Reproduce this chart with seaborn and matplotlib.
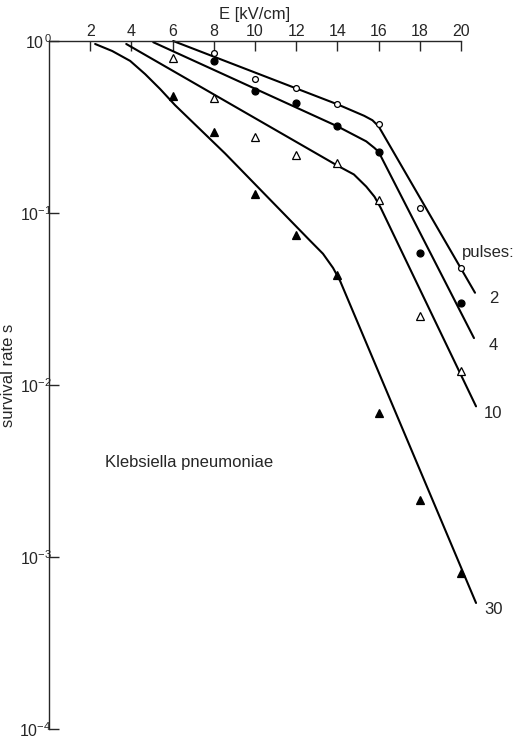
import numpy as np
import pandas as pd
import matplotlib
matplotlib.use("Agg")
import matplotlib.pyplot as plt
import seaborn as sns

# Field strength of the measurements (kV/cm)
field = [6, 8, 10, 12, 14, 16, 18, 20]

# Measured survival rates per number of pulses
surv_2 = [None, 0.848, 0.598, 0.530, 0.428, 0.327, 0.106, 0.0479]
surv_4 = [None, 0.761, 0.509, 0.433, 0.318, 0.227, 0.0586, 0.030]
surv_10 = [0.793, 0.463, 0.274, 0.216, 0.194, 0.118, 0.0251, 0.0120]
surv_30 = [0.476, 0.294, 0.129, 0.0746, 0.0436, 0.0069, 0.00215, 0.00081]

# Fitted curves (E, s) for each pulse number
fit_2_E = [6.03, 14.0, 15.3, 15.7, 16.0, 20.68]
fit_2_s = [0.996, 0.427, 0.366, 0.345, 0.318, 0.0343]
fit_4_E = [5.06, 14.0, 15.4, 15.8, 16.0, 20.63]
fit_4_s = [0.98, 0.318, 0.26, 0.238, 0.226, 0.0187]
fit_10_E = [3.75, 14.0, 14.8, 15.4, 15.8, 16.1, 20.73]
fit_10_s = [0.957, 0.188, 0.167, 0.142, 0.124, 0.107, 0.0075]
fit_30_E = [2.24, 3.07, 3.94, 4.67, 5.40, 6.12, 8.55, 12.67, 13.30, 13.79,
            14.13, 20.73]
fit_30_s = [0.957, 0.871, 0.763, 0.639, 0.523, 0.422, 0.221, 0.0689, 0.0578,
            0.0478, 0.0402, 0.00054]

x_ticks = [2, 4, 6, 8, 10, 12, 14, 16, 18, 20]
y_ticks = [1, 1e-1, 1e-2, 1e-3, 1e-4]
y_labels = [r"$10^{\,0}$", r"$10^{-1}$", r"$10^{-2}$", r"$10^{-3}$", r"$10^{-4}$"]

sns.set_style("ticks")
plt.rcParams["font.family"] = ["Liberation Sans", "DejaVu Sans"]
plt.rcParams["mathtext.fontset"] = "custom"
plt.rcParams["mathtext.rm"] = "Liberation Sans"
plt.rcParams["mathtext.it"] = "Liberation Sans"

FS = 12

fig = plt.figure(figsize=(5.15, 7.43), dpi=100)
ax = fig.add_axes([49 / 515, 1 - 729 / 743, (461 - 49) / 515, (729 - 40.7) / 743])

series = [
    ("2", surv_2, fit_2_E, fit_2_s, "o", "white", 4.2),
    ("4", surv_4, fit_4_E, fit_4_s, "o", "black", 5.0),
    ("10", surv_10, fit_10_E, fit_10_s, "^", "white", 5.5),
    ("30", surv_30, fit_30_E, fit_30_s, "^", "black", 5.5),
]

for name, surv, fE, fs, mk, fc, ms in series:
    fit_df = pd.DataFrame({"E": fE, "s": fs})
    sns.lineplot(data=fit_df, x="E", y="s", ax=ax, color="black", lw=1.5,
                 sort=False, estimator=None, clip_on=False, zorder=2)
    pts = pd.DataFrame({"E": field, "s": surv}).dropna()
    ax.plot(pts["E"], pts["s"], linestyle="none", marker=mk, ms=ms,
            mfc=fc, mec="black", mew=0.9, clip_on=False, zorder=3)

ax.set_yscale("log")
ax.set_xlim(0, 20)
ax.set_ylim(1e-4, 1)

ax.xaxis.tick_top()
ax.xaxis.set_label_position("top")
ax.set_xticks(x_ticks)
ax.set_xticklabels([str(v) for v in x_ticks], fontsize=FS - 0.5)
ax.set_yticks(y_ticks)
ax.set_yticklabels(y_labels, fontsize=FS - 0.5)
ax.yaxis.set_minor_locator(matplotlib.ticker.NullLocator())
ax.tick_params(axis="both", direction="in", length=7, width=1.0, pad=1.5)
ax.tick_params(axis="y", pad=-2)
ax.set_xlabel("E [kV/cm]", fontsize=FS, labelpad=3)
ax.set_ylabel("")

for side in ["right", "bottom"]:
    ax.spines[side].set_visible(False)
for side in ["top", "left"]:
    ax.spines[side].set_linewidth(1.0)

fig.text(9 / 515, 1 - 375 / 743, "survival rate s", rotation=90,
         ha="center", va="center", fontsize=FS)

fig.text(105 / 515, 1 - 463 / 743, "Klebsiella pneumoniae",
         ha="left", va="center", fontsize=FS)

label_pos = [("pulses:", 462, 252), ("2", 489, 298), ("4", 489, 345),
             ("10", 484, 413), ("30", 484, 609)]
for txt, px, py in label_pos:
    fig.text(px / 515, 1 - py / 743, txt, ha="left", va="center", fontsize=FS)

fig.savefig("out.png", dpi=100)
